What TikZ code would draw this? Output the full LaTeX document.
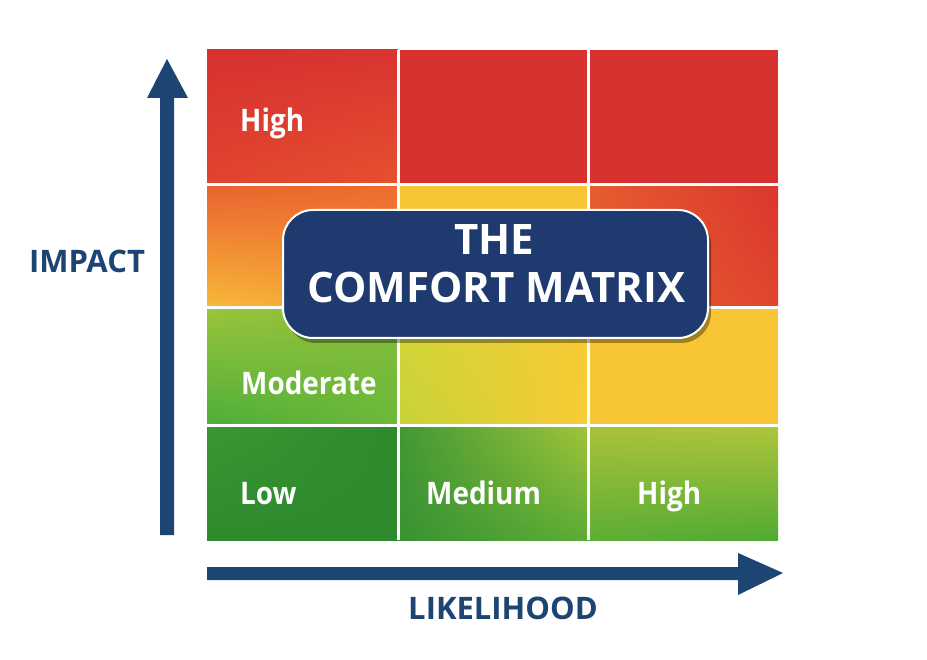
\documentclass[tikz,border=0pt]{standalone}
\usepackage{fontspec}
\setmainfont{Open Sans}
\newfontfamily\labelfont{Open Sans}[FakeStretch=0.9]
\usetikzlibrary{shadows,shadings}
\definecolor{navy}{HTML}{1C4573}
\definecolor{bannerblue}{HTML}{1E3A6E}
\definecolor{cred}{HTML}{D73230}
\definecolor{cyellow}{HTML}{F8C634}
% cell corner colours
\definecolor{aUL}{HTML}{D63130}\definecolor{aUR}{HTML}{D83430}\definecolor{aLL}{HTML}{E0442F}\definecolor{aLR}{HTML}{E6512F}
\definecolor{bUL}{HTML}{E9622F}\definecolor{bUR}{HTML}{EE6B2E}\definecolor{bLL}{HTML}{F8B939}\definecolor{bLR}{HTML}{F4A035}
\definecolor{cUL}{HTML}{E65C2E}\definecolor{cUR}{HTML}{DA362E}\definecolor{cLL}{HTML}{E9622E}\definecolor{cLR}{HTML}{DF462E}
\definecolor{dUL}{HTML}{9CC43A}\definecolor{dUR}{HTML}{84BE3A}\definecolor{dLL}{HTML}{4BAE3A}\definecolor{dLR}{HTML}{6DB83A}
\definecolor{eUL}{HTML}{D6D638}\definecolor{eUR}{HTML}{F8C935}\definecolor{eLL}{HTML}{C5D338}\definecolor{eLR}{HTML}{F9CB35}
\definecolor{fUL}{HTML}{3B9632}\definecolor{fUR}{HTML}{2F892E}\definecolor{fLL}{HTML}{2E8A2E}\definecolor{fLR}{HTML}{2F8A2E}
\definecolor{gUL}{HTML}{409833}\definecolor{gUR}{HTML}{A3C43A}\definecolor{gLL}{HTML}{399232}\definecolor{gLR}{HTML}{5CAC35}
\definecolor{hUL}{HTML}{A8C23A}\definecolor{hUR}{HTML}{B0C53B}\definecolor{hLL}{HTML}{5EAE35}\definecolor{hLR}{HTML}{50AA33}
\tikzset{
  celllabel/.style={anchor=base west, inner sep=0pt, text=white, font=\labelfont\fontsize{31}{36}\selectfont\bfseries},
  axislabel/.style={anchor=base, inner sep=0pt, text=navy, font=\fontsize{31}{36}\selectfont\bfseries},
  titletext/.style={anchor=base, inner sep=0pt, text=white, font=\fontsize{42}{48}\selectfont\bfseries},
  bannerbox/.style={draw=white, line width=2pt, fill=bannerblue, rounded corners=30pt,
    minimum width=425pt, minimum height=128pt, inner sep=0pt,
    drop shadow={shadow xshift=3pt, shadow yshift=-5pt, opacity=0.35, fill=black}},
  sep/.style={draw=white, line width=3pt},
  quad/.style={upper left=#1UL, upper right=#1UR, lower left=#1LL, lower right=#1LR}
}
\begin{document}
\begin{tikzpicture}[x=1pt,y=-1pt]
\useasboundingbox (0,0) rectangle (927,660);
\fill[white] (0,0) rectangle (927,660);
% row 1
\shade[quad=a] (207,50) rectangle (398,185);
\fill[cred] (398,50) rectangle (588,185);
\fill[cred] (588,50) rectangle (778,185);
% row 2
\shade[quad=b] (207,185) rectangle (398,308);
\fill[cyellow] (398,185) rectangle (588,308);
\shade[quad=c] (588,185) rectangle (778,308);
% row 3
\shade[quad=d] (207,308) rectangle (398,426);
\shade[quad=e] (398,308) rectangle (588,426);
\fill[cyellow] (588,308) rectangle (778,426);
% row 4
\shade[quad=f] (207,426) rectangle (398,540);
\shade[quad=g] (398,426) rectangle (588,540);
\shade[quad=h] (588,426) rectangle (778,540);
% separators
\draw[sep] (398,50) -- (398,540);
\draw[sep] (588,50) -- (588,540);
\draw[sep] (207,185) -- (778,185);
\draw[sep] (207,308) -- (778,308);
\draw[sep] (207,426) -- (778,426);
% arrows
\fill[navy] (160,535) -- (160,98) -- (147,98) -- (167,59) -- (188,98) -- (174,98) -- (174,535) -- cycle;
\fill[navy] (207,567) -- (738,567) -- (738,553) -- (783,573) -- (738,595) -- (738,580) -- (207,580) -- cycle;
% labels
\node[celllabel] (lhigh) at (240,132) {High};
\node[celllabel] (lmod) at (241,395) {Moderate};
\node[celllabel] (llow) at (240,504) {Low};
\node[celllabel] (lmed) at (426,504) {Medium};
\node[celllabel] (lhigh2) at (637,504) {High};
\node[axislabel] (impact) at (87,273) {IMPACT};
\node[axislabel] (likely) at (503,619) {LIKELIHOOD};
% banner
\node[bannerbox] (banner) at (495.5,274) {};
\node[titletext] (the) at (494,255) {THE};
\node[titletext] (comfort) at (496.5,303) {COMFORT MATRIX};
\end{tikzpicture}
\end{document}
